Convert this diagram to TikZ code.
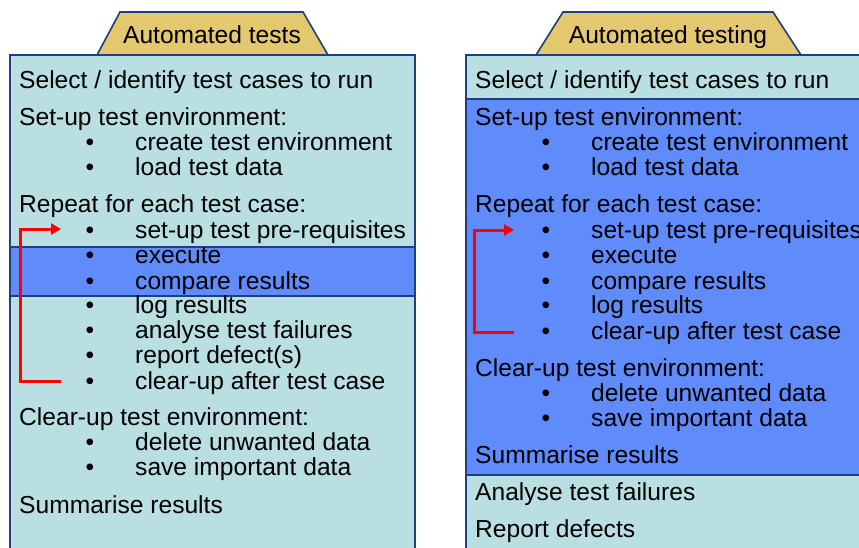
\documentclass[tikz,border=0pt]{standalone}
\usepackage{fontspec}
\setmainfont{Liberation Sans}
\usetikzlibrary{arrows.meta}
\definecolor{paleteal}{HTML}{B9DFE3}
\definecolor{bandblue}{HTML}{5F8BFB}
\definecolor{tabgold}{HTML}{E3C86F}
\definecolor{edgeblue}{HTML}{1F3F7F}

\begin{document}
\begin{tikzpicture}
  [x=1pt,y=-1pt,
   every node/.style={anchor=base west, inner sep=0pt, font=\fontsize{24.6}{29}\selectfont},
   frame/.style={draw=edge, line width=1.6pt},
   tabshape/.style={fill=tabgold, draw=edgeblue, line width=1.6pt},
   panel/.style={fill=paleteal, draw=edgeblue, line width=1.6pt},
   band/.style={fill=bandblue, draw=edgeblue, line width=1.6pt},
   bul/.style={anchor=base},
   loop/.style={draw=red, line width=3pt, -{Triangle[length=10pt,width=11pt]}}]
  \clip (0,0) rectangle (859,548);
  \fill[white] (0,0) rectangle (859,548);

  % tabs
  \draw[tabshape] (97,55) -- (120,12) -- (303,12) -- (328,55) -- cycle;
  \draw[tabshape] (536,55) -- (563,12) -- (773,12) -- (801,55) -- cycle;
  \node[anchor=base] (tabL) at (212,44) {Automated tests};
  \node[anchor=base] (tabR) at (668,44) {Automated testing};

  % panels
  \draw[panel] (10,55) rectangle (415,580);
  \draw[band] (10,247) rectangle (415,296);
  \draw[panel] (466,55) rectangle (890,580);
  \draw[band] (466,99) rectangle (890,475);

  % left: automated tests
  \node (selL) at (19,89) {Select / identify test cases to run};
  \node (envL) at (19,126) {Set-up test environment:};
  \node (repL) at (19,213) {Repeat for each test case:};
  \node (clrL) at (19,425) {Clear-up test environment:};
  \node (sumL) at (19,513) {Summarise results};
  \foreach \n/\y/\t in {creL/151/{create test environment}, lodL/176/{load test data},
      preL/238/{set-up test pre-requisites}, exeL/263/{execute}, cmpL/289/{compare results},
      logL/313/{log results}, anaL/338/{analyse test failures}, repdL/363/{report defect(s)},
      aftL/389/{clear-up after test case}, delL/450/{delete unwanted data},
      savL/475/{save important data}}
  {
    \node[bul] (\n b) at (90,\y) {•};
    \node (\n) at (135,\y) {\t};
  }

  % right: automated testing
  \node (selR) at (475,89) {Select / identify test cases to run};
  \node (envR) at (475,126) {Set-up test environment:};
  \node (repR) at (475,213) {Repeat for each test case:};
  \node (clrR) at (475,376) {Clear-up test environment:};
  \node (sumR) at (475,463) {Summarise results};
  \node (anaR) at (475,500) {Analyse test failures};
  \node (rptR) at (475,537) {Report defects};
  \foreach \n/\y/\t in {creR/151/{create test environment}, lodR/176/{load test data},
      preR/238/{set-up test pre-requisites}, exeR/263/{execute}, cmpR/289/{compare results},
      logR/313/{log results}, aftR/339/{clear-up after test case},
      delR/401/{delete unwanted data}, savR/426/{save important data}}
  {
    \node[bul] (\n b) at (546,\y) {•};
    \node (\n) at (591,\y) {\t};
  }

  % loop arrows
  \coordinate (loopAL) at (61,381);
  \coordinate (loopBL) at (61,229);
  \coordinate (loopXL) at (20,300);
  \draw[loop] (loopAL) -- (loopAL -| loopXL) |- (loopBL);
  \coordinate (loopAR) at (514,332);
  \coordinate (loopBR) at (514,230);
  \coordinate (loopXR) at (474,300);
  \draw[loop] (loopAR) -- (loopAR -| loopXR) |- (loopBR);
\end{tikzpicture}
\end{document}
